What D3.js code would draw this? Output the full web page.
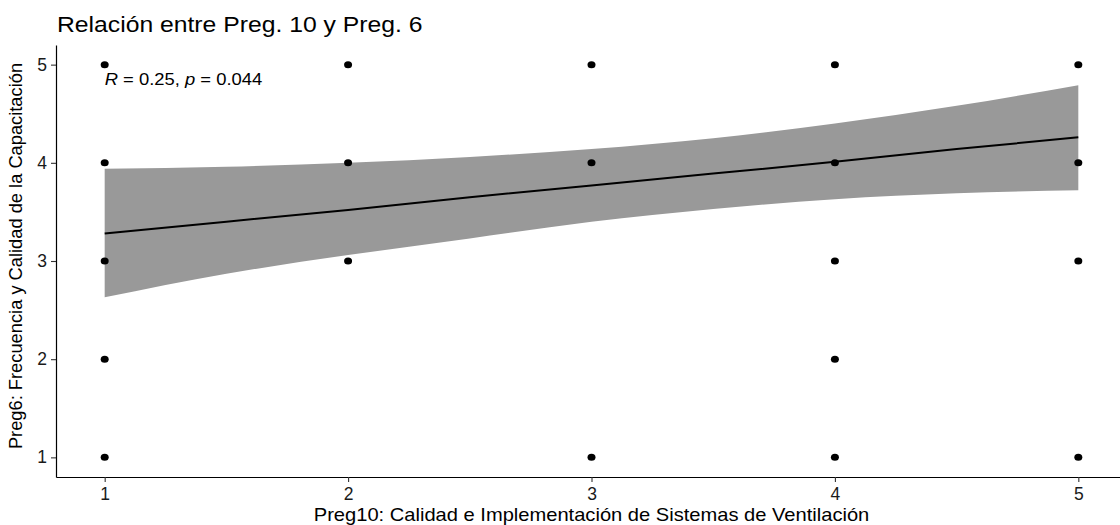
<!DOCTYPE html>
<html>
<head>
<meta charset="utf-8">
<script src="https://cdn.jsdelivr.net/npm/d3@7"></script>
<style>
  body { margin: 0; background: #fff; }
  text { font-family: "Liberation Sans", Arial, sans-serif; }
</style>
</head>
<body>
<div id="chart"></div>
<script>
// puntos observados (Preg10, Preg6)
const preg10 = [1, 1, 1, 1, 1, 2, 2, 2, 3, 3, 3, 4, 4, 4, 4, 4, 5, 5, 5, 5];
const preg6  = [5, 4, 3, 2, 1, 5, 4, 3, 5, 4, 1, 5, 4, 3, 2, 1, 5, 4, 3, 1];

// recta ajustada y banda de confianza
const fitX  = [1, 1.5, 2, 2.5, 3, 3.5, 4, 4.5, 5];
const fitY  = [3.28, 3.40, 3.52, 3.65, 3.77, 3.89, 4.01, 4.14, 4.26];
const upper = [3.94, 3.96, 4.00, 4.06, 4.14, 4.25, 4.40, 4.58, 4.79];
const lower = [2.63, 2.87, 3.06, 3.23, 3.40, 3.53, 3.63, 3.69, 3.72];

const xTicks = [1, 2, 3, 4, 5];
const yTicks = [1, 2, 3, 4, 5];

const W = 1120, H = 525;
const margin = { top: 45, right: -7, bottom: 48, left: 56 };
const width = W - margin.left - margin.right;
const height = H - margin.top - margin.bottom;
const sx = 1.15; // el original esta estirado en horizontal

const svg = d3.select('#chart')
    .append('svg')
    .attr('width', W)
    .attr('height', H);

const g = svg.append('g')
    .attr('transform', `translate(${margin.left},${margin.top})`);

const x = d3.scaleLinear().domain([0.8, 5.2]).range([0, width]);
const y = d3.scaleLinear().domain([0.8, 5.2]).range([height, 0]);

// banda
const band = fitX.map((v, i) => ({ x: v, lo: lower[i], hi: upper[i] }));
g.append('path')
    .datum(band)
    .attr('fill', '#999999')
    .attr('d', d3.area()
        .curve(d3.curveMonotoneX)
        .x(d => x(d.x))
        .y0(d => y(d.lo))
        .y1(d => y(d.hi)));

// puntos
g.selectAll('.pt')
    .data(preg10.map((v, i) => ({ x: v, y: preg6[i] })))
    .enter()
    .append('ellipse')
    .attr('class', 'pt')
    .attr('cx', d => x(d.x))
    .attr('cy', d => y(d.y))
    .attr('rx', 4)
    .attr('ry', 3.5)
    .attr('fill', '#000');

// recta
g.append('path')
    .datum(fitX.map((v, i) => ({ x: v, y: fitY[i] })))
    .attr('fill', 'none')
    .attr('stroke', '#000')
    .attr('stroke-width', 2)
    .attr('d', d3.line().x(d => x(d.x)).y(d => y(d.y)));

// ejes
const fmt = d3.format('d');
const xAxis = g.append('g')
    .attr('transform', `translate(0,${height})`)
    .call(d3.axisBottom(x).tickValues(xTicks).tickFormat(fmt).tickSize(5).tickSizeOuter(0).tickPadding(3));
const yAxis = g.append('g')
    .call(d3.axisLeft(y).tickValues(yTicks).tickFormat(fmt).tickSize(5).tickSizeOuter(0).tickPadding(3));

[xAxis, yAxis].forEach(a => {
    a.select('.domain').attr('stroke', '#000').attr('stroke-width', 1.2);
    a.selectAll('.tick line').attr('stroke', '#333').attr('stroke-width', 1.1);
    a.selectAll('.tick text')
        .attr('fill', '#1a1a1a')
        .style('font-size', '17.5px')
        .style('font-family', '"Liberation Sans", Arial, sans-serif');
});
xAxis.selectAll('.tick text').attr('dy', '0.85em');
yAxis.selectAll('.tick text').attr('x', -9);

// textos horizontales estirados
function stretched(parent, px, py, anchor, size) {
    return parent.append('text')
        .attr('transform', `translate(${px},${py}) scale(${sx},1)`)
        .attr('text-anchor', anchor)
        .style('font-size', size + 'px');
}

stretched(svg, 57, 32, 'start', 21.5)
    .attr('fill', '#000')
    .text('Relación entre Preg. 10 y Preg. 6');

stretched(g, width / 2, height + 44, 'middle', 17.5)
    .attr('fill', '#000')
    .text('Preg10: Calidad e Implementación de Sistemas de Ventilación');

const ann = stretched(g, x(1), y(5) + 20, 'start', 16)
    .attr('fill', '#000');
ann.append('tspan').style('font-style', 'italic').text('R');
ann.append('tspan').text(' = 0.25, ');
ann.append('tspan').style('font-style', 'italic').text('p');
ann.append('tspan').text(' = 0.044');

g.append('text')
    .attr('transform', 'rotate(-90)')
    .attr('x', -height / 2 + 5)
    .attr('y', -34)
    .attr('text-anchor', 'middle')
    .attr('fill', '#000')
    .style('font-size', '18.3px')
    .text('Preg6: Frecuencia y Calidad de la Capacitación');
</script>
</body>
</html>
